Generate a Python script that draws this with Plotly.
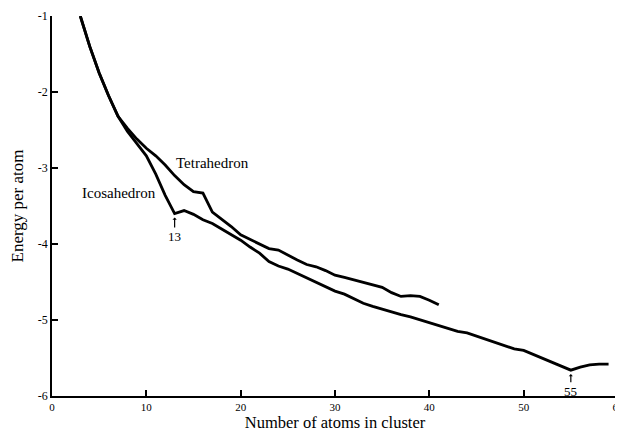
import plotly.graph_objects as go

# Data
N_ico = list(range(3, 60))
E_ico = [-1.00, -1.40, -1.75, -2.05, -2.32, -2.52, -2.68, -2.84, -3.08, -3.36,
         -3.60, -3.56, -3.61, -3.68, -3.73, -3.80, -3.87, -3.95, -4.04, -4.12,
         -4.23, -4.29, -4.33, -4.39, -4.45, -4.51, -4.57, -4.62, -4.66, -4.72,
         -4.78, -4.82, -4.86, -4.89, -4.93, -4.96, -5.00, -5.04, -5.07, -5.11,
         -5.15, -5.17, -5.21, -5.26, -5.30, -5.33, -5.38, -5.40, -5.45, -5.50,
         -5.55, -5.60, -5.66, -5.62, -5.59, -5.58, -5.58]

N_tet = list(range(3, 42))
E_tet = [-1.00, -1.40, -1.75, -2.05, -2.32, -2.48, -2.62, -2.74, -2.84, -2.96,
         -3.10, -3.22, -3.31, -3.33, -3.58, -3.67, -3.77, -3.88, -3.94, -3.99,
         -4.06, -4.08, -4.15, -4.21, -4.27, -4.30, -4.35, -4.41, -4.44, -4.47,
         -4.50, -4.53, -4.57, -4.64, -4.69, -4.68, -4.69, -4.74, -4.80]

x_ticks = [0, 10, 20, 30, 40, 50, 60]
x_ticklabels = ["0", "10", "20", "30", "40", "50", "60"]
y_ticks = [-1, -2, -3, -4, -5, -6]
y_ticklabels = ["-1", "-2", "-3", "-4", "-5", "-6"]

FONT = "Liberation Serif"

fig = go.Figure()
fig.add_trace(go.Scatter(x=N_ico, y=E_ico, mode="lines",
                         line=dict(color="black", width=2.8), showlegend=False))
fig.add_trace(go.Scatter(x=N_tet, y=E_tet, mode="lines",
                         line=dict(color="black", width=2.8), showlegend=False))

i13 = N_ico.index(13)
i55 = N_ico.index(55)
annotations = [
    dict(x=12.9, y=-2.93, text="Tetrahedron", showarrow=False, xanchor="left",
         yanchor="middle", font=dict(size=15, color="black", family=FONT)),
    dict(x=11.2, y=-3.33, text="Icosahedron", showarrow=False, xanchor="right",
         yanchor="middle", font=dict(size=15, color="black", family=FONT)),
    dict(x=N_ico[i13], y=E_ico[i13], text="13", showarrow=True, ax=0, ay=23,
         arrowhead=1, arrowsize=0.6, arrowwidth=1.2, standoff=4, arrowcolor="black",
         font=dict(size=13, color="black", family=FONT)),
    dict(x=N_ico[i55], y=E_ico[i55], text="55", showarrow=True, ax=0, ay=21,
         arrowhead=1, arrowsize=0.6, arrowwidth=1.2, standoff=4, arrowcolor="black",
         font=dict(size=13, color="black", family=FONT)),
]

# The page body has an 8px default margin, so the figure is sized to fit.
fig.update_layout(
    width=615, height=427,
    margin=dict(l=44, r=5, t=8, b=39),
    paper_bgcolor="white", plot_bgcolor="white",
    font=dict(family=FONT, color="black", size=12),
    annotations=annotations,
    xaxis=dict(range=[0, 60], tickvals=x_ticks, ticktext=x_ticklabels,
               showgrid=False, zeroline=False, showline=True, linecolor="black",
               linewidth=2, ticks="inside", ticklen=6, tickwidth=1.5, tickcolor="black",
               tickfont=dict(size=11, family=FONT), ticklabeloverflow="allow",
               automargin=False,
               title=dict(text="Number of atoms in cluster", font=dict(size=16.5, family=FONT),
                          standoff=0)),
    yaxis=dict(range=[-6, -1], tickvals=y_ticks, ticktext=y_ticklabels,
               showgrid=False, zeroline=False, showline=True, linecolor="black",
               linewidth=1.5, ticks="inside", ticklen=6, tickwidth=1.5, tickcolor="black",
               tickfont=dict(size=12, family=FONT), automargin=False,
               title=dict(text="Energy per atom", font=dict(size=17, family=FONT),
                          standoff=10)),
)

fig.write_html("out.html")
